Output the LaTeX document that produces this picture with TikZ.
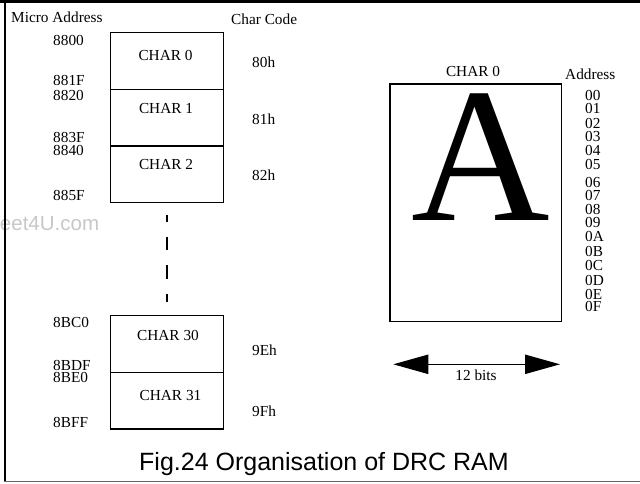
\documentclass[tikz,border=0pt]{standalone}
\usepackage{fontspec}
\setmainfont{Liberation Serif}
\newfontfamily\capfont{Liberation Sans}
\usetikzlibrary{arrows.meta}
\begin{document}
\begin{tikzpicture}[x=1pt,y=-1pt,
  lbl/.style={inner sep=0pt,font=\fontsize{15.3}{16}\selectfont,text height=10pt,text depth=0pt},
  addr/.style={lbl,anchor=base west},
  boxlbl/.style={lbl,anchor=base},
  membox/.style={draw,line width=1.3pt,minimum width=113pt,minimum height=56.7pt,inner sep=0pt,anchor=north west},
  frameline/.style={line width=2pt}]
\useasboundingbox (0,0) rectangle (640,483);
% watermark
\begin{scope}
\clip (0,0) rectangle (640,483);
\node[anchor=base east,inner sep=0pt,text=black!22,font=\capfont\fontsize{20.5}{21}\selectfont] (wm) at (99.3,230) {datasheet4U.com};
\end{scope}
% frame
\draw[line width=3pt] (0,1.2) -- (640,1.2);
\draw[frameline] (4.5,0) -- (4.5,482);
\draw[line width=1.6pt,black!60] (3.5,481.3) -- (640,481.3);
% headings
\node[addr] (hma) at (11,22.7) {Micro Address};
\node[addr] (hcc) at (231,24) {Char Code};
% memory boxes
\node[membox] (b0) at (110,32) {};
\node[membox] (b1) at (110,88.7) {};
\node[membox] (b2) at (110,145.3) {};
\node[membox] (b30) at (110,315) {};
\node[membox] (b31) at (110,371.7) {};
\node[boxlbl] (t0) at (165.5,60) {CHAR 0};
\node[boxlbl] (t1) at (166,113) {CHAR 1};
\node[boxlbl] (t2) at (166,169) {CHAR 2};
\node[boxlbl] (t30) at (168,340.7) {CHAR 30};
\node[boxlbl] (t31) at (170.5,400) {CHAR 31};
% addresses
\node[addr] (a1) at (53,45) {8800};
\node[addr] (a2) at (53,85.7) {881F};
\node[addr] (a3) at (53,100) {8820};
\node[addr] (a4) at (53,142) {883F};
\node[addr] (a5) at (53,155.7) {8840};
\node[addr] (a6) at (53,200) {885F};
\node[addr] (a7) at (53,327.3) {8BC0};
\node[addr] (a8) at (53,370.7) {8BDF};
\node[addr] (a9) at (53,382.3) {8BE0};
\node[addr] (a10) at (53,427.3) {8BFF};
% char codes
\node[addr] (c1) at (252,67.7) {80h};
\node[addr] (c2) at (252,124.3) {81h};
\node[addr] (c3) at (252,180) {82h};
\node[addr] (c4) at (252,355) {9Eh};
\node[addr] (c5) at (252,416.7) {9Fh};
% dashed continuation
\coordinate (d1) at (166.7,215);
\coordinate (d2) at (166.7,301.7);
\draw[line width=2pt,dash pattern=on 13.5pt off 15pt,dash phase=7pt] (d1) -- (d2);
% big character box
\node[draw,line width=1.3pt,minimum width=171.4pt,minimum height=237.4pt,inner sep=0pt,anchor=north west] (big) at (389.3,83.3) {};
\node[boxlbl] (bigt) at (473,76) {CHAR 0};
\node[inner sep=0pt,anchor=base,font=\fontsize{192}{192}\selectfont,text height=127pt,text depth=0pt] (A) at (480.8,220) {A};
\node[addr] (hadr) at (565,79) {Address};
\foreach \t/\y in {00/100,01/113.3,02/128,03/141.7,04/155,05/169,06/187.3,07/200,08/214,09/227.7,0A/241.7,0B/256.7,0C/270.7,0D/285,0E/299,0F/311.7}
  \node[addr] (ad\t) at (585,\y) {\t};
% width arrow
\coordinate (wl) at (393.3,364.3);
\coordinate (wr) at (560,364.3);
\draw[line width=1.3pt,{Triangle[length=35pt,width=19.3pt]}-{Triangle[length=35pt,width=19.3pt]}] (wl) -- (wr);
\node[boxlbl] (bits) at (476,380.7) {12 bits};
% caption
\node[inner sep=0pt,anchor=base,font=\capfont\fontsize{25}{26}\selectfont] (cap) at (324,470) {Fig.24 Organisation of DRC RAM};
\end{tikzpicture}
\end{document}
